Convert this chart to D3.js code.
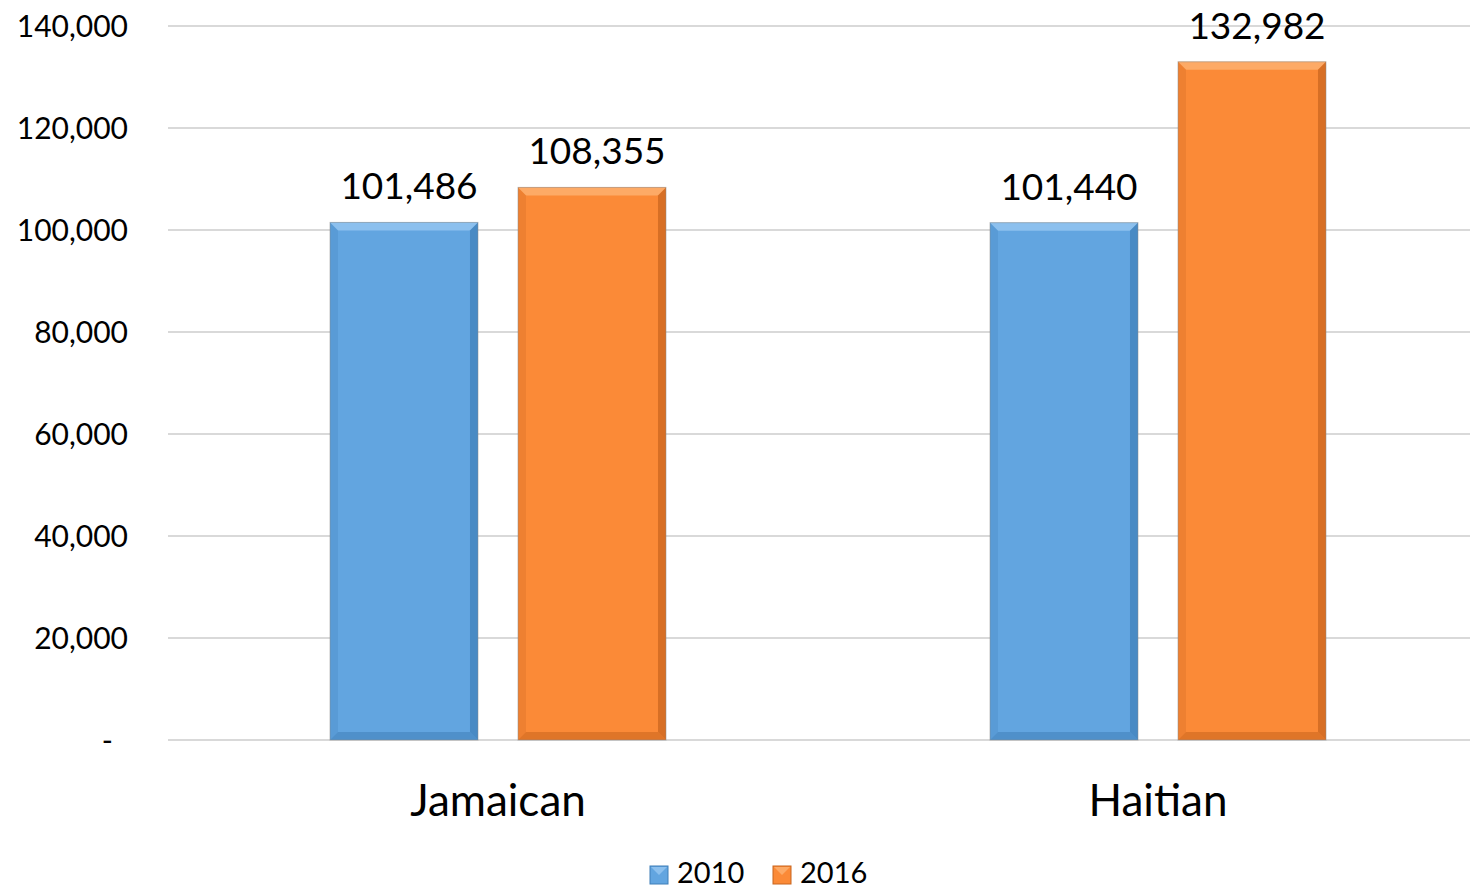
<!DOCTYPE html>
<html><head><meta charset="utf-8">
<script src="https://cdn.jsdelivr.net/npm/d3@7"></script>
<style>body{margin:0;background:#fff}svg{display:block}text{font-family:Lato,"Open Sans",sans-serif}</style>
</head><body>
<svg id="c" width="1470" height="889"></svg>
<script>
const categories = ["Jamaican", "Haitian"];
const seriesNames = ["2010", "2016"];
const values2010 = [101486, 101440];
const values2016 = [108355, 132982];
const yTicks = [0, 20000, 40000, 60000, 80000, 100000, 120000, 140000];
const colors = {"2010": "#62a5e0", "2016": "#fb8a37"};
const light = {"2010": "#8cc0ee", "2016": "#fdaa66"};
const dark = {"2010": "#3f7fb8", "2016": "#c8641e"};

const svg = d3.select("#c");
const x0 = d3.scaleBand().domain(categories).range([168, 1488]);
const x1 = d3.scaleBand().domain(seriesNames).range([0, x0.bandwidth()]).paddingInner(0.2128).paddingOuter(0.8617);
const y = d3.scaleLinear().domain([0, 140000]).range([740, 26]);
const fmt = d3.format(",");

svg.append("g").selectAll("line").data(yTicks).join("line")
  .attr("x1", 168).attr("x2", 1470).attr("y1", d => y(d)).attr("y2", d => y(d))
  .attr("stroke", "#d9d9d9").attr("stroke-width", 2);

const yAxis = d3.axisLeft(y).tickValues(yTicks).tickSize(0).tickPadding(0)
  .tickFormat(d => d === 0 ? "-" : fmt(d));
const ya = svg.append("g").attr("transform", "translate(128,0)").call(yAxis);
ya.select(".domain").remove();
ya.selectAll("text").attr("font-size", 30).attr("fill", "#000").attr("font-family", "Lato,'Open Sans',sans-serif")
  .attr("dy", "0.35em").attr("dx", d => d === 0 ? -15 : 0);

const data = [];
categories.forEach((c, i) => {
  data.push({cat: c, s: "2010", v: values2010[i]});
  data.push({cat: c, s: "2016", v: values2016[i]});
});

const bw = x1.bandwidth();
const bev = 8;
const bars = svg.append("g").selectAll("g").data(data).join("g")
  .attr("transform", d => `translate(${x0(d.cat) + x1(d.s)},0)`);
bars.each(function(d) {
  const g = d3.select(this);
  const top = y(d.v), bot = y(0), w = bw;
  g.append("rect").attr("x", 0).attr("y", top).attr("width", w).attr("height", bot - top).attr("fill", colors[d.s]);
  g.append("path").attr("d", `M0,${top}L${w},${top}L${w - bev},${top + bev}L${bev},${top + bev}Z`).attr("fill", light[d.s]);
  g.append("path").attr("d", `M${w},${top}L${w},${bot}L${w - bev},${bot - bev}L${w - bev},${top + bev}Z`).attr("fill", dark[d.s]).attr("opacity", 0.7);
  g.append("path").attr("d", `M0,${bot}L${w},${bot}L${w - bev},${bot - bev}L${bev},${bot - bev}Z`).attr("fill", dark[d.s]).attr("opacity", 0.55);
  g.append("path").attr("d", `M0,${top}L${bev},${top + bev}L${bev},${bot - bev}L0,${bot}Z`).attr("fill", dark[d.s]).attr("opacity", 0.25);
  g.append("rect").attr("x", 0).attr("y", top).attr("width", w).attr("height", bot - top).attr("fill", "none").attr("stroke", "#8a8a8a").attr("stroke-width", 1).attr("opacity", 0.5);
  g.append("text").attr("x", w / 2 + 5).attr("y", top - 23).attr("text-anchor", "middle")
    .attr("font-size", 37).attr("fill", "#000").text(fmt(d.v));
});

svg.append("g").selectAll("text").data(categories).join("text")
  .attr("x", d => x0(d) + x0.bandwidth() / 2).attr("y", 816).attr("text-anchor", "middle")
  .attr("font-size", 44).attr("fill", "#000").text(d => d);

const legX = [650, 773];
const lg = svg.append("g").selectAll("g").data(seriesNames).join("g")
  .attr("transform", (d, i) => `translate(${legX[i]},866)`);
lg.append("rect").attr("width", 18).attr("height", 18).attr("fill", d => colors[d]).attr("stroke", d => dark[d]).attr("stroke-width", 1);
lg.append("path").attr("d", "M1,1L17,1L9,9Z").attr("fill", d => light[d]);
lg.append("text").attr("x", 27).attr("y", 7).attr("dy", "0.35em").attr("font-size", 29).attr("fill", "#000").text(d => d);
</script>
</body></html>
